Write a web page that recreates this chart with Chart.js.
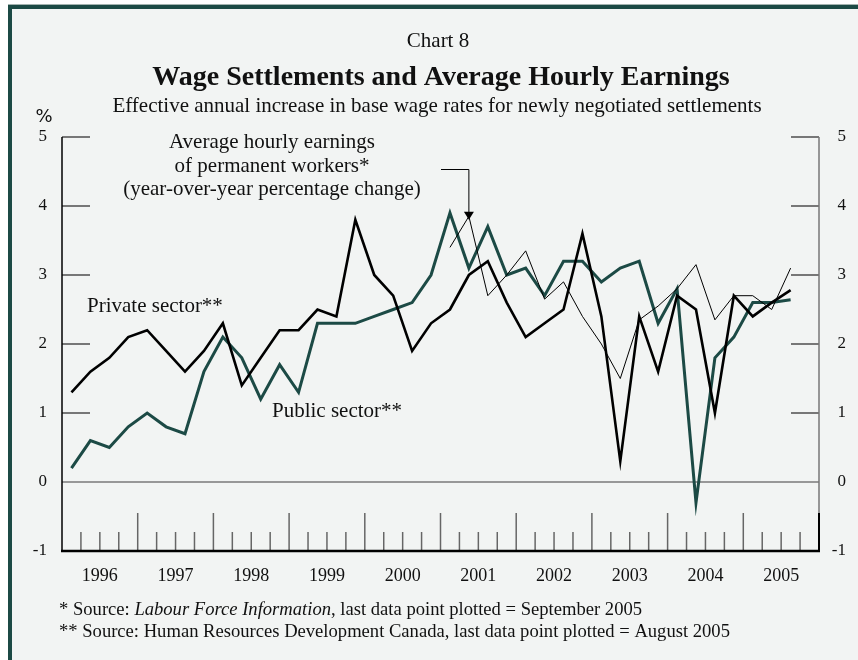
<!DOCTYPE html>
<html>
<head>
<meta charset="utf-8">
<script src="https://cdn.jsdelivr.net/npm/chart.js@4.4.1/dist/chart.umd.min.js"></script>
<style>
  body { margin: 0; background: #fff; }
  canvas { display: block; }
</style>
</head>
<body>
<canvas id="myChart" width="858" height="660"></canvas>
<script>
const ctx = document.getElementById('myChart');

const years = [1996, 1997, 1998, 1999, 2000, 2001, 2002, 2003, 2004, 2005];
const yTicks = [-1, 0, 1, 2, 3, 4, 5];

// quarterly, from 1996 Q1 to 2005 Q3
const privateSector = [
  1.3, 1.6, 1.8, 2.1,
  2.2, 1.9, 1.6, 1.9,
  2.3, 1.4, 1.8, 2.2,
  2.2, 2.5, 2.4, 3.8,
  3.0, 2.7, 1.9, 2.3,
  2.5, 3.0, 3.2, 2.6,
  2.1, 2.3, 2.5, 3.6,
  2.4, 0.3, 2.4, 1.6,
  2.7, 2.5, 1.0, 2.7,
  2.4, 2.6, 2.78
];
const publicSector = [
  0.2, 0.6, 0.5, 0.8,
  1.0, 0.8, 0.7, 1.6,
  2.1, 1.8, 1.2, 1.7,
  1.3, 2.3, 2.3, 2.3,
  2.4, 2.5, 2.6, 3.0,
  3.9, 3.1, 3.7, 3.0,
  3.1, 2.7, 3.2, 3.2,
  2.9, 3.1, 3.2, 2.3,
  2.8, -0.3, 1.8, 2.1,
  2.6, 2.6, 2.64
];
// quarterly, from 2001 Q1 to 2005 Q3
const hourlyEarnings = [
  3.4, 3.85, 2.7, 3.0,
  3.35, 2.65, 2.9, 2.4,
  2.0, 1.5, 2.35, 2.55,
  2.8, 3.15, 2.35, 2.7,
  2.7, 2.5, 3.1
];

// point sits in the middle of its quarter
function toPoints(values, startYear) {
  return values.map((v, i) => ({ x: startYear + (i + 0.5) / 4, y: v }));
}

const serif = '"Liberation Serif", "Times New Roman", serif';
const green = '#1c4a45';

function line(c, x1, y1, x2, y2) {
  c.beginPath();
  c.moveTo(x1, y1);
  c.lineTo(x2, y2);
  c.stroke();
}

const decorations = {
  id: 'decorations',
  beforeDraw(chart) {
    const c = chart.ctx;
    const w = chart.width, h = chart.height;
    c.save();
    c.fillStyle = '#fff';
    c.fillRect(0, 0, w, h);
    c.fillStyle = '#f2f4f3';
    c.fillRect(8, 4, w - 8, h - 4);
    c.fillStyle = '#a3b3af';
    c.fillRect(8, 4, w - 8, 1);
    c.fillStyle = green;
    c.fillRect(8, 5, w - 8, 4);
    c.fillRect(8, 5, 4, h - 5);

    c.fillStyle = '#111';
    c.textAlign = 'center';
    c.textBaseline = 'alphabetic';
    c.font = '21px ' + serif;
    c.fillText('Chart 8', 438, 47);
    c.font = 'bold 28px ' + serif;
    c.fillText('Wage Settlements and Average Hourly Earnings', 441, 85);
    c.font = '21px ' + serif;
    c.fillText('Effective annual increase in base wage rates for newly negotiated settlements', 437, 112);
    c.font = '18px "DejaVu Sans", sans-serif';
    c.fillText('%', 44, 122);

    // footnotes
    c.textAlign = 'left';
    const fn = '18.6px ' + serif;
    let x = 59;
    const parts = [['* Source: ', ''], ['Labour Force Information', 'italic '], [', last data point plotted = September 2005', '']];
    parts.forEach(([t, style]) => {
      c.font = style + fn;
      c.fillText(t, x, 615);
      x += c.measureText(t).width;
    });
    c.font = fn;
    c.fillText('** Source: Human Resources Development Canada, last data point plotted = August 2005', 59, 637);
    c.restore();
  },
  beforeDatasetsDraw(chart) {
    const c = chart.ctx;
    const { left, right, top, bottom } = chart.chartArea;
    const xs = chart.scales.x, ys = chart.scales.y;
    c.save();
    c.lineCap = 'butt';

    // zero line
    c.strokeStyle = '#7a7a7a';
    c.lineWidth = 1.5;
    line(c, left, ys.getPixelForValue(0), right, ys.getPixelForValue(0));

    // y ticks, inside on both sides
    c.strokeStyle = '#333';
    c.lineWidth = 1.3;
    yTicks.filter(v => v > 0).forEach(v => {
      const py = ys.getPixelForValue(v);
      line(c, left, py, left + 28, py);
      line(c, right - 28, py, right, py);
    });

    // quarter and year ticks on the bottom
    c.strokeStyle = '#666';
    c.lineWidth = 1.5;
    for (let k = 1; k < years.length * 4; k++) {
      const px = xs.getPixelForValue(years[0] + k / 4);
      line(c, px, bottom, px, bottom - (k % 4 === 0 ? 38 : 19));
    }

    // axes
    c.strokeStyle = '#777';
    c.lineWidth = 1.5;
    line(c, right, top, right, bottom);
    c.strokeStyle = '#000';
    c.lineWidth = 2;
    line(c, right, bottom - 38, right, bottom);
    c.lineWidth = 1.5;
    line(c, left, top, left, bottom);
    c.lineWidth = 2.5;
    line(c, left - 1, bottom, right + 1, bottom);

    // tick labels
    c.fillStyle = '#111';
    c.font = '17px ' + serif;
    c.textBaseline = 'middle';
    yTicks.forEach(v => {
      const py = ys.getPixelForValue(v);
      c.textAlign = 'right';
      c.fillText(String(v), left - 15, py);
      c.fillText(String(v), right + 27, py);
    });
    c.textAlign = 'center';
    c.textBaseline = 'alphabetic';
    c.font = '18px ' + serif;
    years.forEach(yr => {
      c.fillText(String(yr), xs.getPixelForValue(yr + 0.5), bottom + 30);
    });
    c.restore();
  },
  afterDatasetsDraw(chart) {
    const c = chart.ctx;
    const xs = chart.scales.x, ys = chart.scales.y;
    c.save();
    c.fillStyle = '#111';
    c.font = '21px ' + serif;
    c.textAlign = 'left';
    c.fillText('Private sector**', 87, 312);
    c.fillText('Public sector**', 272, 417);
    c.textAlign = 'center';
    c.fillText('Average hourly earnings', 272, 148);
    c.fillText('of permanent workers*', 272, 172);
    c.fillText('(year-over-year percentage change)', 272, 195);

    // arrow to the earnings line
    const ax = xs.getPixelForValue(2001 + 1.5 / 4);
    const tip = ys.getPixelForValue(3.8);
    c.strokeStyle = '#000';
    c.lineWidth = 1;
    c.beginPath();
    c.moveTo(441, 169.5);
    c.lineTo(ax, 169.5);
    c.lineTo(ax, tip - 7);
    c.stroke();
    c.fillStyle = '#000';
    c.beginPath();
    c.moveTo(ax - 5, tip - 8);
    c.lineTo(ax + 5, tip - 8);
    c.lineTo(ax, tip);
    c.closePath();
    c.fill();
    c.restore();
  }
};

new Chart(ctx, {
  type: 'line',
  data: {
    datasets: [
      { label: 'Average hourly earnings', data: toPoints(hourlyEarnings, 2001), borderColor: '#000', borderWidth: 1 },
      { label: 'Private sector**', data: toPoints(privateSector, 1996), borderColor: '#000', borderWidth: 2.6 },
      { label: 'Public sector**', data: toPoints(publicSector, 1996), borderColor: green, borderWidth: 3 }
    ]
  },
  options: {
    responsive: false,
    animation: false,
    devicePixelRatio: 1,
    layout: { padding: { left: 62, right: 39, top: 137, bottom: 109 } },
    elements: {
      point: { radius: 0, hoverRadius: 0 },
      line: { tension: 0, fill: false }
    },
    scales: {
      x: { type: 'linear', min: 1996, max: 2006, display: false },
      y: { min: -1, max: 5, display: false }
    },
    plugins: {
      legend: { display: false },
      tooltip: { enabled: false }
    }
  },
  plugins: [decorations]
});
</script>
</body>
</html>
